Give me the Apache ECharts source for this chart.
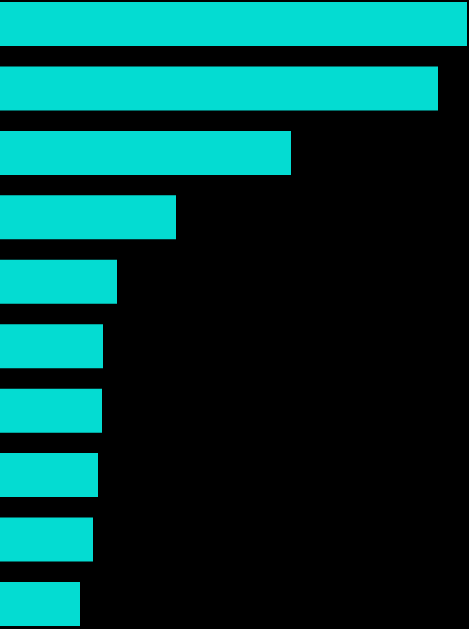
<!DOCTYPE html>
<html>
<head>
<meta charset="utf-8">
<script src="https://cdn.jsdelivr.net/npm/echarts@6/dist/echarts.min.js"></script>
<style>
  html, body { margin: 0; padding: 0; background: #000; }
  #chart { width: 469px; height: 629px; }
</style>
</head>
<body>
<div id="chart"></div>
<script>
// 类别和数值
const categories = ['A', 'B', 'C', 'D', 'E', 'F', 'G', 'H', 'I', 'J'];
const values = [467, 438, 291, 176, 117, 103, 102, 98, 93, 80];

const chart = echarts.init(document.getElementById('chart'));
const option = {
  backgroundColor: '#000',
  animation: false,
  // 第一根柱中心约 y=24，最后一根约 y=604
  grid: { left: 0, right: 0, top: 24, bottom: 25 },
  xAxis: {
    type: 'value',
    min: 0,
    max: 469,
    show: false
  },
  yAxis: {
    type: 'category',
    data: categories,
    inverse: true,
    boundaryGap: false,
    show: false
  },
  series: [{
    type: 'bar',
    data: values,
    barWidth: 44,
    itemStyle: { color: '#04dcd2' }
  }]
};
chart.setOption(option);
</script>
</body>
</html>
